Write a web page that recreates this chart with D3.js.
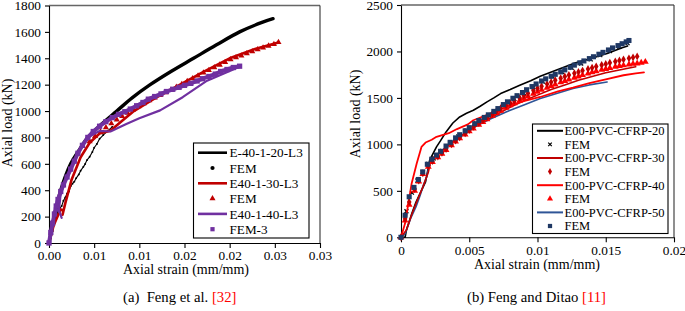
<!DOCTYPE html>
<html><head><meta charset="utf-8">
<script src="https://cdn.jsdelivr.net/npm/d3@7"></script>
<style>
body{margin:0;background:#fff;}
svg{display:block;}
svg text{font-family:"Liberation Serif","Times New Roman",Times,"DejaVu Serif",serif;}
</style></head><body>
<svg id="c" width="685" height="311"></svg>
<script>
// ---------- Panel (a) data ----------
const aXTicks = [0,0.005,0.01,0.015,0.02,0.025,0.03];
const aXLabels = ["0.00","0.01","0.01","0.02","0.02","0.03","0.03"];
const aYTicks = [0,200,400,600,800,1000,1200,1400,1600,1800];
const aSeriesNames = ["E-40-1-20-L3","FEM","E40-1-30-L3","FEM","E40-1-40-L3","FEM-3"];
const aExp20 = [[0,0],[0.0006,200],[0.0013,400],[0.0024,600],[0.0033,700],[0.0043,800],[0.0058,900],[0.0075,1000],[0.0092,1100],[0.0112,1200],[0.0135,1300],[0.016,1400],[0.0185,1500],[0.0211,1600],[0.0235,1670],[0.0248,1700]];
const aFem20 = [[0,0],[0.0002,40],[0.0004,90],[0.0006,150],[0.0008,200],[0.001,240],[0.0012,265],[0.0014,280],[0.0016,320],[0.0018,345],[0.002,375],[0.0022,390],[0.0024,430],[0.0026,450],[0.0028,465],[0.003,490],[0.0033,520],[0.0035,548],[0.0038,577],[0.004,598],[0.0042,628],[0.0045,653],[0.0048,690],[0.005,722],[0.0053,750],[0.0056,790],[0.006,818],[0.0065,850],[0.007,880]];
const aExp30 = [[0,0],[0.0005,130],[0.001,210],[0.0013,255],[0.0016,245],[0.0015,215],[0.0018,300],[0.0025,480],[0.0035,650],[0.0045,760],[0.0056,830],[0.0068,850],[0.008,920],[0.0093,995],[0.0118,1100],[0.0145,1200],[0.0172,1300],[0.02,1400],[0.0228,1470],[0.0254,1520]];
const aFem30 = [[0.0045,770],[0.0051,810],[0.0057,845],[0.0063,875],[0.0069,905],[0.0075,935],[0.0081,960],[0.0087,985],[0.0093,1010],[0.0099,1035],[0.0105,1058],[0.0111,1080],[0.0117,1100],[0.0123,1120],[0.0129,1140],[0.0135,1160],[0.0141,1182],[0.0147,1203],[0.0153,1225],[0.0159,1246],[0.0165,1268],[0.0171,1290],[0.0177,1310],[0.0183,1330],[0.0189,1350],[0.0195,1370],[0.0201,1390],[0.0207,1405],[0.0213,1420],[0.0219,1437],[0.0225,1452],[0.0231,1466],[0.0237,1480],[0.0243,1494],[0.0249,1507],[0.0254,1522]];
const aExp40 = [[0,0],[0.0004,150],[0.0008,260],[0.0012,230],[0.0014,190],[0.0011,250],[0.0013,380],[0.002,500],[0.0032,680],[0.0043,800],[0.0056,850],[0.0068,845],[0.0085,900],[0.01,945],[0.0123,1005],[0.0148,1105],[0.0175,1230],[0.0211,1335]];
const aFem40 = [[0,0],[0.0002,80],[0.0004,150],[0.0006,220],[0.0008,280],[0.001,330],[0.0013,390],[0.0016,440],[0.002,500],[0.0024,560],[0.0028,620],[0.0032,680],[0.0037,740],[0.0043,800],[0.0049,845],[0.0056,885],[0.0063,920],[0.007,950],[0.0077,975],[0.0084,995],[0.009,1015],[0.0097,1040],[0.0104,1065],[0.011,1090],[0.0117,1110],[0.0124,1130],[0.013,1148],[0.0137,1165],[0.0144,1180],[0.015,1195],[0.0157,1210],[0.0164,1228],[0.017,1245],[0.0177,1262],[0.0184,1280],[0.019,1300],[0.0197,1315],[0.0204,1330],[0.0211,1340]];

// ---------- Panel (b) data ----------
const bXTicks = [0,0.005,0.01,0.015,0.02];
const bXLabels = ["0","0.005","0.01","0.015","0.02"];
const bYTicks = [0,500,1000,1500,2000,2500];
const bSeriesNames = ["E00-PVC-CFRP-20","FEM","E00-PVC-CFRP-30","FEM","E00-PVC-CFRP-40","FEM","E00-PVC-CFRP-50","FEM"];
const bExp20 = [[0,0],[0.0003,0],[0.0004,78],[0.0008,258],[0.0011,380],[0.0014,472],[0.0018,597],[0.0021,830],[0.0026,973],[0.0029,1040],[0.0033,1134],[0.0038,1230],[0.0043,1295],[0.0048,1335],[0.0053,1367],[0.0058,1410],[0.0063,1457],[0.0068,1500],[0.0073,1547],[0.008,1590],[0.0087,1636],[0.0095,1685],[0.0102,1733],[0.0114,1800],[0.0126,1869],[0.0138,1920],[0.0151,1977],[0.0162,2040],[0.0166,2060]];
const bFem20 = [[0,0],[0.0004,280],[0.0008,480],[0.0012,610],[0.0016,700],[0.002,790],[0.0024,850],[0.003,930],[0.0036,1010],[0.0042,1085],[0.0048,1150],[0.0055,1225],[0.0062,1290],[0.0069,1355],[0.0076,1425],[0.0083,1490],[0.009,1550],[0.0097,1615],[0.0104,1675],[0.0111,1730],[0.0118,1780],[0.0125,1825],[0.0132,1870],[0.0139,1915],[0.0146,1960],[0.0153,2005],[0.016,2050],[0.0166,2090]];
const bExp30 = [[0,0],[0.0004,80],[0.0008,250],[0.0012,400],[0.0016,540],[0.002,700],[0.0022,840],[0.003,930],[0.004,1050],[0.005,1150],[0.006,1240],[0.007,1320],[0.008,1400],[0.009,1470],[0.01,1530],[0.011,1590],[0.012,1640],[0.013,1690],[0.014,1730],[0.015,1770],[0.016,1800],[0.017,1830],[0.0172,1835]];
const bFem30 = [[0,0],[0.0003,200],[0.0006,380],[0.001,520],[0.0013,610],[0.0016,690],[0.002,770],[0.0023,820],[0.0027,870],[0.003,910],[0.0033,950],[0.0037,1000],[0.004,1040],[0.0043,1075],[0.0047,1120],[0.005,1155],[0.0053,1189],[0.0057,1230],[0.006,1260],[0.0063,1290],[0.0067,1330],[0.007,1360],[0.0073,1390],[0.0077,1420],[0.008,1445],[0.0083,1470],[0.0087,1500],[0.009,1525],[0.0093,1550],[0.0097,1580],[0.01,1605],[0.0103,1625],[0.0107,1650],[0.011,1670],[0.0113,1690],[0.0117,1712],[0.012,1730],[0.0123,1746],[0.0127,1766],[0.013,1780],[0.0133,1794],[0.0137,1812],[0.014,1825],[0.0143,1838],[0.0147,1854],[0.015,1866],[0.0153,1878],[0.0157,1892],[0.016,1902],[0.0163,1913],[0.0167,1926],[0.017,1936],[0.0173,1947]];
const bExp40 = [[0,0],[0.0003,150],[0.00054,365],[0.00078,580],[0.00115,794],[0.0015,973],[0.0018,1020],[0.00225,1050],[0.0026,1081],[0.0035,1120],[0.0041,1165],[0.0049,1215],[0.0053,1260],[0.006,1300],[0.007,1360],[0.008,1420],[0.009,1465],[0.0102,1510],[0.0115,1570],[0.0126,1610],[0.0138,1660],[0.015,1700],[0.0163,1744],[0.0172,1765],[0.0178,1775]];
const bFem40 = [[0,0],[0.0003,180],[0.0006,350],[0.001,500],[0.0013,600],[0.0016,680],[0.002,760],[0.0023,810],[0.0027,860],[0.003,900],[0.0033,940],[0.0037,990],[0.004,1030],[0.0043,1065],[0.0047,1105],[0.005,1140],[0.0053,1171],[0.0057,1210],[0.006,1240],[0.0063,1270],[0.0067,1308],[0.007,1335],[0.0073,1362],[0.0077,1395],[0.008,1420],[0.0083,1443],[0.0087,1472],[0.009,1495],[0.0093,1518],[0.0097,1545],[0.01,1567],[0.0103,1587],[0.0107,1610],[0.011,1628],[0.0113,1645],[0.0117,1668],[0.012,1683],[0.0123,1698],[0.0127,1717],[0.013,1731],[0.0133,1745],[0.0137,1762],[0.014,1775],[0.0143,1787],[0.0147,1802],[0.015,1812],[0.0153,1822],[0.0157,1835],[0.016,1843],[0.0163,1851],[0.0167,1860],[0.017,1866],[0.0173,1871],[0.0176,1878],[0.0179,1888]];
const bExp50 = [[0,0],[0.0003,40],[0.0007,200],[0.0011,330],[0.0014,450],[0.0016,545],[0.0019,660],[0.0021,796],[0.0025,870],[0.0029,920],[0.004,1060],[0.0053,1180],[0.0065,1270],[0.0077,1349],[0.009,1425],[0.0102,1493],[0.0114,1548],[0.0126,1601],[0.0138,1640],[0.0151,1672]];
const bFem50 = [[0,0],[0.0003,237],[0.0006,436],[0.00095,537],[0.00127,622],[0.00159,704],[0.00193,786],[0.00225,840],[0.0026,885],[0.0029,925],[0.0033,982],[0.0036,1022],[0.004,1070],[0.0043,1104],[0.0047,1146],[0.005,1180],[0.0054,1222],[0.0057,1256],[0.0061,1290],[0.0064,1318],[0.0068,1355],[0.0071,1385],[0.0075,1428],[0.0078,1458],[0.0082,1496],[0.0085,1524],[0.0089,1558],[0.0092,1588],[0.0096,1622],[0.0099,1650],[0.0103,1682],[0.0106,1705],[0.011,1733],[0.0113,1754],[0.0117,1780],[0.012,1802],[0.0124,1830],[0.0127,1853],[0.0131,1878],[0.0134,1898],[0.0138,1923],[0.0141,1943],[0.0145,1970],[0.0148,1990],[0.0152,2016],[0.0155,2038],[0.0159,2063],[0.0162,2083],[0.0165,2103],[0.0167,2118]];

const svg = d3.select("#c");
const FONT = "'Liberation Serif','Times New Roman',Times,'DejaVu Serif',serif";

function panel(cfg){
  const g = svg.append("g");
  const x = d3.scaleLinear().domain(cfg.xDom).range([cfg.x0, cfg.x1]);
  const y = d3.scaleLinear().domain(cfg.yDom).range([cfg.y0, cfg.y1]);
  g.append("line").attr("x1",cfg.x0).attr("x2",cfg.x1).attr("y1",cfg.y1).attr("y2",cfg.y1).attr("stroke","#666").attr("stroke-width",1.3);
  g.append("line").attr("x1",cfg.x1).attr("x2",cfg.x1).attr("y1",cfg.y1).attr("y2",cfg.y0).attr("stroke","#333").attr("stroke-width",1.1);
  const xa = g.append("g").attr("transform",`translate(0,${cfg.y0})`)
    .call(d3.axisBottom(x).tickValues(cfg.xTicks).tickFormat((d,i)=>cfg.xLabels[i]).tickSize(5).tickSizeOuter(0).tickPadding(3));
  const ya = g.append("g").attr("transform",`translate(${cfg.x0},0)`)
    .call(d3.axisLeft(y).tickValues(cfg.yTicks).tickFormat(d3.format("d")).tickSize(4).tickSizeOuter(0).tickPadding(4));
  [xa,ya].forEach(a=>{
    a.attr("font-family",FONT);
    a.selectAll("path,line").attr("stroke","#000").attr("stroke-width",1.1);
    a.selectAll("text").style("font-family",FONT).attr("font-size",13.3).attr("fill","#000");
  });
  g.append("text").attr("x",cfg.xtX).attr("y",cfg.xtY).attr("text-anchor","middle")
    .style("font-family",FONT).attr("font-size",14).text("Axial strain (mm/mm)");
  g.append("text").attr("transform",`translate(${cfg.ytX},${cfg.ytY}) rotate(-90)`).attr("text-anchor","middle")
    .style("font-family",FONT).attr("font-size",14).text("Axial load (kN)");
  const pg = g.append("g");
  return {g:pg, x, y, root:g};
}

function line(p, data, color, w, curve){
  p.g.append("path").datum(data)
    .attr("d", d3.line().x(d=>p.x(d[0])).y(d=>p.y(d[1])).curve(curve||d3.curveLinear))
    .attr("fill","none").attr("stroke",color).attr("stroke-width",w).attr("stroke-linejoin","round").attr("stroke-linecap","round");
}
function marks(p, data, type, size, color){
  p.g.selectAll(null).data(data).enter().append("path")
    .attr("transform",d=>`translate(${p.x(d[0])},${p.y(d[1])})`)
    .attr("d", d3.symbol().type(type).size(size))
    .attr("fill", type===d3.symbolX ? "none" : color)
    .attr("stroke", type===d3.symbolX ? color : "none").attr("stroke-width",1.2);
}

// ---------- Panel (a) ----------
const A = panel({xDom:[0,0.03], yDom:[0,1800], x0:49, x1:320, y0:243, y1:5.5,
  xTicks:aXTicks, xLabels:aXLabels, yTicks:aYTicks,
  xtX:186, xtY:274, ytX:12, ytY:123});
const BLACK="#000", DRED="#c00000", RED="#ff0000", PURPLE="#7030a0", BLUE="#2f5597", NAVY="#1f3864";
line(A, aExp20, BLACK, 3.4, d3.curveCatmullRom);
line(A, aFem20, BLACK, 1.1);
marks(A, aFem20, d3.symbolCircle, 3, BLACK);
line(A, aExp30, DRED, 2.6);
marks(A, aFem30, d3.symbolTriangle, 16, DRED);
line(A, aExp40, PURPLE, 2.2);
line(A, aFem40, PURPLE, 4);
marks(A, aFem40, d3.symbolSquare, 28, PURPLE);

// ---------- Panel (b) ----------
const B = panel({xDom:[0,0.02], yDom:[0,2500], x0:401, x1:674, y0:237.3, y1:5,
  xTicks:bXTicks, xLabels:bXLabels, yTicks:bYTicks,
  xtX:537, xtY:269, ytX:360, ytY:114});
line(B, bExp20, BLACK, 1.6);
marks(B, bFem20, d3.symbolX, 12, BLACK);
line(B, bExp50, BLUE, 1.6);
line(B, bExp30, DRED, 1.6);
line(B, bExp40, RED, 1.8);
marks(B, bFem40, d3.symbolTriangle, 20, RED);
marks(B, bFem30, d3.symbolDiamond, 18, DRED);
marks(B, bFem50, d3.symbolSquare, 26, NAVY);

// ---------- Legends ----------
function legend(items, bx, by, bw, bh, r0, step, lx0, lx1, tx, fs){
  const g = svg.append("g");
  g.append("rect").attr("x",bx).attr("y",by).attr("width",bw).attr("height",bh)
    .attr("fill","#fff").attr("stroke","#000").attr("stroke-width",1.1);
  items.forEach((it,i)=>{
    const yy = r0 + i*step;
    if(it.kind==="line"){
      g.append("line").attr("x1",lx0).attr("x2",lx1).attr("y1",yy).attr("y2",yy)
        .attr("stroke",it.color).attr("stroke-width",it.w);
    } else {
      g.append("path").attr("transform",`translate(${(lx0+lx1)/2},${yy})`)
        .attr("d",d3.symbol().type(it.sym).size(it.size))
        .attr("fill", it.sym===d3.symbolX?"none":it.color)
        .attr("stroke", it.sym===d3.symbolX?it.color:"none").attr("stroke-width",1.2);
    }
    g.append("text").attr("x",tx).attr("y",yy).attr("dy","0.35em")
      .style("font-family",FONT).attr("font-size",fs).text(it.name);
  });
}
legend([
  {name:aSeriesNames[0],kind:"line",color:BLACK,w:2.6},
  {name:aSeriesNames[1],kind:"mark",sym:d3.symbolCircle,size:14,color:BLACK},
  {name:aSeriesNames[2],kind:"line",color:DRED,w:2.6},
  {name:aSeriesNames[3],kind:"mark",sym:d3.symbolTriangle,size:16,color:DRED},
  {name:aSeriesNames[4],kind:"line",color:PURPLE,w:2.6},
  {name:aSeriesNames[5],kind:"mark",sym:d3.symbolSquare,size:18,color:PURPLE}
], 193.5, 143, 115.5, 95, 152.7, 15.3, 198, 227, 229.5, 13.2);
legend([
  {name:bSeriesNames[0],kind:"line",color:BLACK,w:2},
  {name:bSeriesNames[1],kind:"mark",sym:d3.symbolX,size:10,color:BLACK},
  {name:bSeriesNames[2],kind:"line",color:DRED,w:2},
  {name:bSeriesNames[3],kind:"mark",sym:d3.symbolDiamond,size:14,color:DRED},
  {name:bSeriesNames[4],kind:"line",color:RED,w:2},
  {name:bSeriesNames[5],kind:"mark",sym:d3.symbolTriangle,size:16,color:RED},
  {name:bSeriesNames[6],kind:"line",color:BLUE,w:2},
  {name:bSeriesNames[7],kind:"mark",sym:d3.symbolSquare,size:18,color:NAVY}
], 532.5, 124, 135.5, 109.5, 130.8, 13.6, 537, 563, 564.5, 12.5);

// ---------- Captions ----------
function caption(x, y, main, ref){
  const t = svg.append("text").attr("x",x).attr("y",y).style("font-family",FONT).attr("font-size",14.7);
  t.append("tspan").text(main);
  t.append("tspan").attr("fill","#ff0000").text(ref);
}
caption(123, 302, "(a)\u00a0 Feng et al. ", "[32]");
caption(467, 302, "(b) Feng and Ditao ", "[11]");
</script>
</body></html>
